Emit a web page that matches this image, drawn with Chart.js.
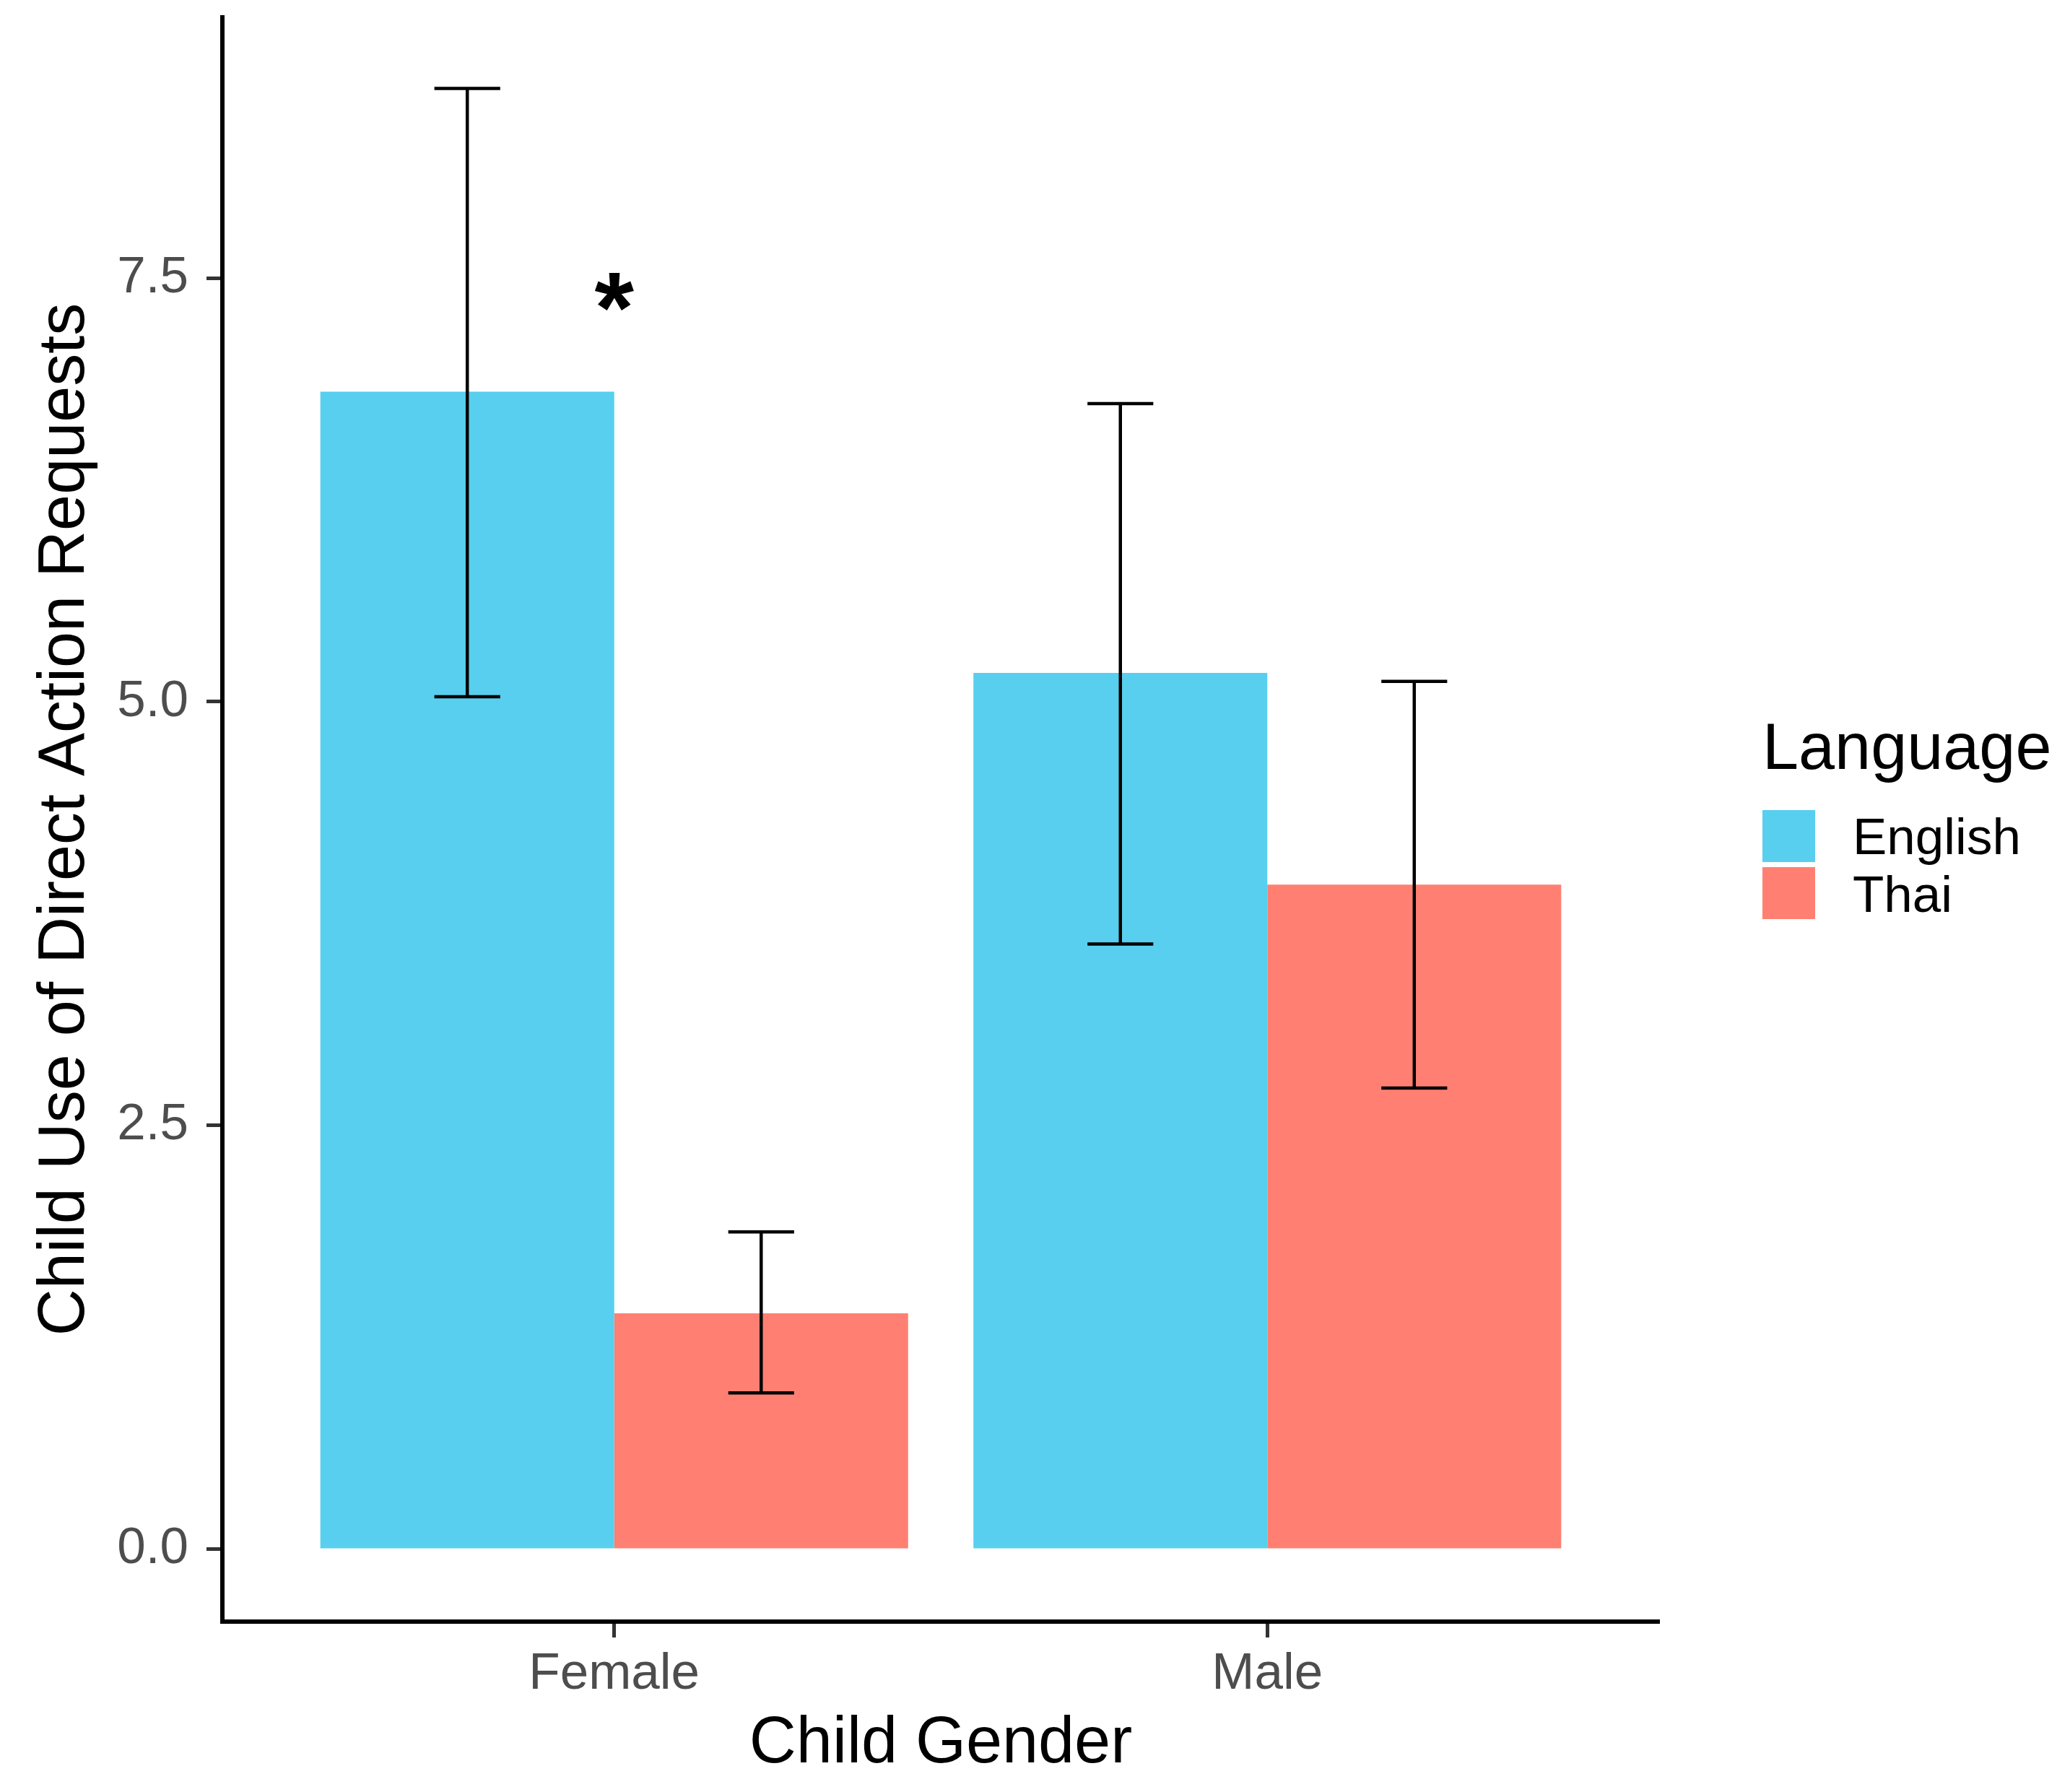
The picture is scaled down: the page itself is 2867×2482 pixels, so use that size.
<!DOCTYPE html>
<html>
<head>
<meta charset="utf-8">
<title>Child Direct Action Requests</title>
<script src="https://cdn.jsdelivr.net/npm/chart.js@4.4.1/dist/chart.umd.min.js"></script>
<style>
  html, body { margin: 0; padding: 0; background: #fff; }
  canvas { display: block; }
</style>
</head>
<body>
<canvas id="chart" width="2867" height="2482"></canvas>
<script>
// values
const categories = ['Female', 'Male'];
const languages = ['English', 'Thai'];
const englishMeans = [6.83, 5.17];
const englishLow = [5.03, 3.57];
const englishHigh = [8.62, 6.76];
const thaiMeans = [1.39, 3.92];
const thaiLow = [0.92, 2.72];
const thaiHigh = [1.87, 5.12];
const yTicks = [0, 2.5, 5, 7.5];
const starLabel = '*';
const starAt = { x: 1, y: 7.42 };

const colors = ['#58CFEE', '#FF8072'];
const FONT = '"Liberation Sans", Arial, Helvetica, sans-serif';

function points(values) {
    return values.map((v, i) => ({ x: i + 1, y: v }));
}

const errors = [
    { low: englishLow, high: englishHigh },
    { low: thaiLow, high: thaiHigh }
];

// error bars, the significance star and the legend
const extras = {
    id: 'extras',
    afterDatasetsDraw(chart) {
        const ctx = chart.ctx;
        const y = chart.scales.y;
        ctx.save();
        ctx.strokeStyle = '#000';
        ctx.lineWidth = 4.5;
        chart.data.datasets.forEach((ds, d) => {
            const meta = chart.getDatasetMeta(d);
            meta.data.forEach((bar, i) => {
                const cap = bar.width * 0.224;
                const top = y.getPixelForValue(errors[d].high[i]);
                const bot = y.getPixelForValue(errors[d].low[i]);
                ctx.beginPath();
                ctx.moveTo(bar.x, top);
                ctx.lineTo(bar.x, bot);
                ctx.moveTo(bar.x - cap / 2, top);
                ctx.lineTo(bar.x + cap / 2, top);
                ctx.moveTo(bar.x - cap / 2, bot);
                ctx.lineTo(bar.x + cap / 2, bot);
                ctx.stroke();
            });
        });

        // star
        ctx.fillStyle = '#000';
        ctx.font = 'bold 140px ' + FONT;
        ctx.textAlign = 'center';
        ctx.textBaseline = 'alphabetic';
        const m = ctx.measureText(starLabel);
        const cx = chart.scales.x.getPixelForValue(starAt.x);
        const cy = y.getPixelForValue(starAt.y);
        ctx.fillText(starLabel, cx, cy + (m.actualBoundingBoxAscent - m.actualBoundingBoxDescent) / 2);
        ctx.restore();
    },
    afterDraw(chart) {
        const ctx = chart.ctx;
        const lx = chart.chartArea.right + 143;
        ctx.save();
        ctx.fillStyle = '#000';
        ctx.textAlign = 'left';
        ctx.textBaseline = 'alphabetic';
        ctx.font = '90px ' + FONT;
        ctx.fillText('Language', lx, 1065);
        ctx.font = '71px ' + FONT;
        languages.forEach((name, i) => {
            const top = 1122 + i * 79;
            ctx.fillStyle = colors[i];
            ctx.fillRect(lx, top, 73, 72);
            ctx.fillStyle = '#000';
            ctx.fillText(name, lx + 125, 1183 + i * 80);
        });
        ctx.restore();
    }
};

new Chart(document.getElementById('chart'), {
    type: 'bar',
    data: {
        datasets: [
            { label: languages[0], data: points(englishMeans), backgroundColor: colors[0] },
            { label: languages[1], data: points(thaiMeans), backgroundColor: colors[1] }
        ]
    },
    options: {
        responsive: false,
        devicePixelRatio: 1,
        animation: false,
        layout: { padding: { top: 24, right: 569, bottom: 0, left: 0 } },
        datasets: { bar: { categoryPercentage: 0.9, barPercentage: 1.0, borderWidth: 0 } },
        plugins: {
            legend: { display: false },
            tooltip: { enabled: false }
        },
        scales: {
            x: {
                type: 'linear',
                min: 0.4,
                max: 2.6,
                offset: false,
                afterBuildTicks: s => { s.ticks = categories.map((c, i) => ({ value: i + 1 })); },
                afterFit: s => { s.height = 236; s.paddingLeft = 0; s.paddingRight = 0; },
                ticks: {
                    callback: v => categories[Math.round(v) - 1],
                    autoSkip: false,
                    maxRotation: 0,
                    padding: 9,
                    color: '#4D4D4D',
                    font: { family: FONT, size: 71 }
                },
                grid: { display: true, offset: false, drawOnChartArea: false, drawTicks: true, tickLength: 22, tickWidth: 5, tickColor: '#333333' },
                border: { display: true, color: '#000', width: 6 },
                title: {
                    display: true,
                    text: 'Child Gender',
                    color: '#000',
                    font: { family: FONT, size: 90 },
                    padding: { top: 0, bottom: 12 }
                }
            },
            y: {
                min: -0.43,
                max: 9.04,
                afterBuildTicks: s => { s.ticks = yTicks.map(v => ({ value: v })); },
                afterFit: s => { s.width = 308; s.paddingTop = 0; s.paddingBottom = 0; },
                ticks: {
                    callback: v => Number(v).toFixed(1),
                    padding: 25,
                    color: '#4D4D4D',
                    font: { family: FONT, size: 71 }
                },
                grid: { display: true, drawOnChartArea: false, drawTicks: true, tickLength: 22, tickWidth: 5, tickColor: '#333333' },
                border: { display: true, color: '#000', width: 6 },
                title: {
                    display: true,
                    text: 'Child Use of Direct Action Requests',
                    color: '#000',
                    font: { family: FONT, size: 90 },
                    padding: { top: 37, bottom: 0 }
                }
            }
        }
    },
    plugins: [extras]
});
</script>
</body>
</html>
